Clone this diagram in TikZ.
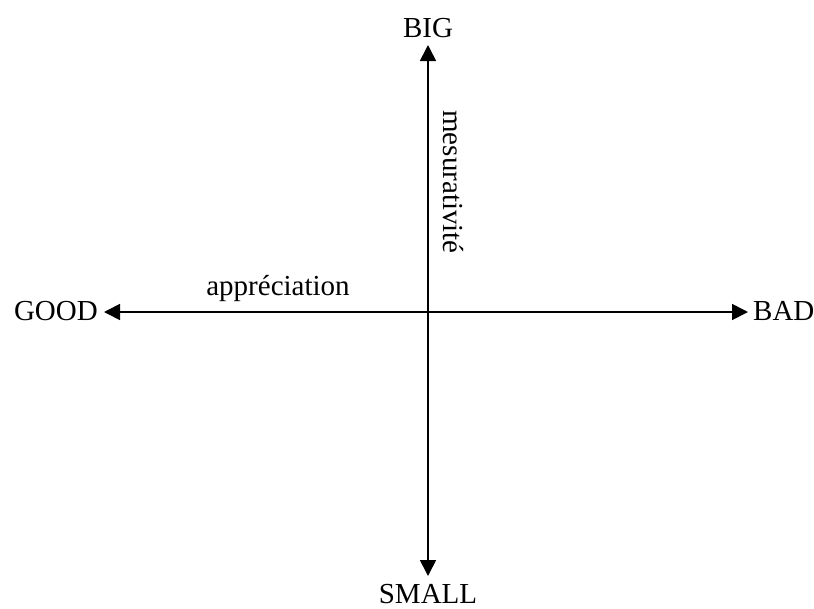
\documentclass[tikz,border=0pt]{standalone}
\usepackage{fontspec}
\setmainfont{Liberation Serif}
\usetikzlibrary{arrows.meta}
\begin{document}
\begin{tikzpicture}[x=1pt,y=1pt,
  lbl/.style={font=\fontsize{29}{33}\selectfont, inner sep=0pt, anchor=base},
  axis/.style={line width=1.7pt, {Triangle[length=16pt,width=16pt]}-{Triangle[length=16pt,width=16pt]}}]
\useasboundingbox (0,0) rectangle (814,-608);
\coordinate (top) at (428,-45);
\coordinate (bot) at (428,-576);
\coordinate (left) at (104,-312);
\coordinate (right) at (748,-312);
\draw[axis] (bot) -- (top);
\draw[axis] (left) -- (right);
\node[lbl] (big) at (428,-37) {BIG};
\node[lbl] (small) at (428,-603) {SMALL};
\node[lbl, anchor=base east] (good) at (98,-320) {GOOD};
\node[lbl, anchor=base west] (bad) at (753,-320) {BAD};
\node[lbl] (appr) at (278,-295) {appréciation};
\node[lbl, rotate=-90] (mes) at (443,-182) {mesurativité};
\end{tikzpicture}
\end{document}
